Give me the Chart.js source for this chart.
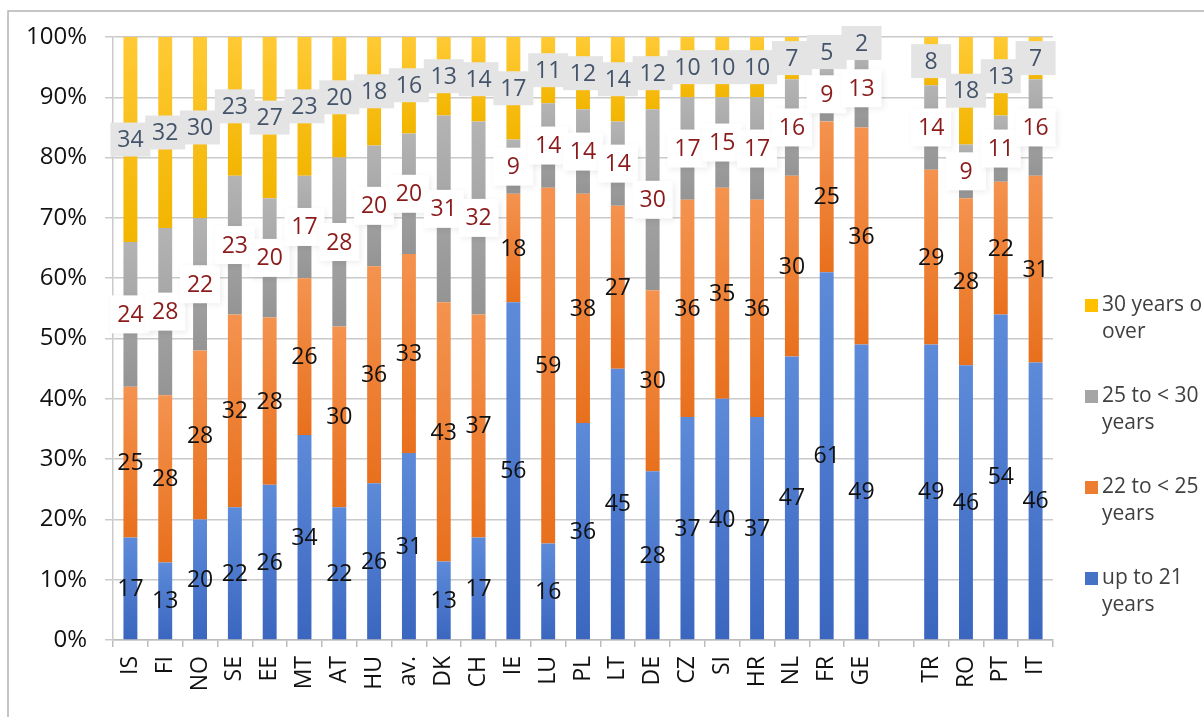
<!DOCTYPE html>
<html>
<head>
<meta charset="utf-8">
<script src="https://cdn.jsdelivr.net/npm/chart.js@4"></script>
<style>
  html, body { margin: 0; padding: 0; background: #fff; }
  #wrap { position: relative; width: 1204px; height: 717px; }
</style>
</head>
<body>
<div id="wrap"><canvas id="chart"></canvas></div>
<script>
// categories ('' is the empty slot between GE and TR)
const categories = ['IS', 'FI', 'NO', 'SE', 'EE', 'MT', 'AT', 'HU', 'av.', 'DK', 'CH', 'IE', 'LU', 'PL',
    'LT', 'DE', 'CZ', 'SI', 'HR', 'NL', 'FR', 'GE', '', 'TR', 'RO', 'PT', 'IT'];

const upTo21 = [17, 13, 20, 22, 26, 34, 22, 26, 31, 13, 17, 56, 16, 36, 45, 28, 37, 40, 37, 47, 61, 49, null, 49, 46, 54, 46];
const from22to25 = [25, 28, 28, 32, 28, 26, 30, 36, 33, 43, 37, 18, 59, 38, 27, 30, 36, 35, 36, 30, 25, 36, null, 29, 28, 22, 31];
const from25to30 = [24, 28, 22, 23, 20, 17, 28, 20, 20, 31, 32, 9, 14, 14, 14, 30, 17, 15, 17, 16, 9, 13, null, 14, 9, 11, 16];
const over30 = [34, 32, 30, 23, 27, 23, 20, 18, 16, 13, 14, 17, 11, 12, 14, 12, 10, 10, 10, 7, 5, 2, null, 8, 18, 13, 7];

const seriesNames = [['up to 21', 'years'], ['22 to < 25', 'years'], ['25 to < 30', 'years'], ['30 years or', 'over']];
const yTicks = [0, 10, 20, 30, 40, 50, 60, 70, 80, 90, 100];

const series = [upTo21, from22to25, from25to30, over30];
const FONT = '"Open Sans", "Liberation Sans", sans-serif';

// 100% stacked: share of each segment in its column
const totals = categories.map((_, i) => series.reduce((s, arr) => s + (arr[i] || 0), 0));
const shares = series.map(arr => arr.map((v, i) => v == null ? null : v / totals[i] * 100));

function segGradient(light, dark) {
    return (c) => {
        if (c.type !== 'data') return dark;
        const ys = c.chart.scales.y;
        const d = c.datasetIndex, i = c.dataIndex;
        if (!ys || shares[d][i] == null) return dark;
        let lo = 0;
        for (let k = 0; k < d; k++) lo += shares[k][i] || 0;
        const yTop = ys.getPixelForValue(lo + shares[d][i]);
        const yBot = ys.getPixelForValue(lo);
        if (!isFinite(yTop) || !isFinite(yBot) || yBot - yTop < 1) return dark;
        const g = c.chart.ctx.createLinearGradient(0, yTop, 0, yBot);
        g.addColorStop(0, light);
        g.addColorStop(1, dark);
        return g;
    };
}

const palette = [
    { flat: '#4472c4', light: '#5d8bd9', dark: '#3a66bf' },
    { flat: '#ed7d31', light: '#f4934f', dark: '#e8701d' },
    { flat: '#a5a5a5', light: '#b4b4b4', dark: '#949494' },
    { flat: '#ffc000', light: '#ffca35', dark: '#f2b500' }
];

const labelStyles = [
    { color: '#111111', box: null },
    { color: '#111111', box: null },
    { color: '#8b1a1a', box: '#ffffff', w: 40, h: 38, shadow: true },
    { color: '#44546a', box: '#e4e4e4', w: 40, h: 34, shadow: false }
];

const framePlugin = {
    id: 'frame',
    beforeDraw(chart) {
        const ctx = chart.ctx;
        ctx.save();
        ctx.fillStyle = '#ffffff';
        ctx.fillRect(0, 0, chart.width, chart.height);
        ctx.strokeStyle = '#b4b4b4';
        ctx.lineWidth = 1.5;
        ctx.beginPath();
        ctx.moveTo(8, chart.height);
        ctx.lineTo(8, 11);
        ctx.lineTo(chart.width, 11);
        ctx.stroke();
        ctx.restore();
    }
};

const valueLabels = {
    id: 'valueLabels',
    afterDatasetsDraw(chart) {
        const ctx = chart.ctx;
        ctx.save();
        ctx.font = '23px ' + FONT;
        ctx.textAlign = 'center';
        ctx.textBaseline = 'middle';
        series.forEach((arr, d) => {
            const st = labelStyles[d];
            chart.getDatasetMeta(d).data.forEach((bar, i) => {
                const v = arr[i];
                if (v == null) return;
                const cx = bar.x;
                const cy = (bar.y + bar.base) / 2;
                if (st.box) {
                    ctx.save();
                    if (st.shadow) {
                        ctx.shadowColor = 'rgba(0,0,0,0.07)';
                        ctx.shadowBlur = 6;
                        ctx.shadowOffsetX = 2;
                        ctx.shadowOffsetY = 2;
                    }
                    ctx.fillStyle = st.box;
                    ctx.fillRect(cx - st.w / 2, cy - st.h / 2, st.w, st.h);
                    ctx.restore();
                }
                ctx.fillStyle = st.color;
                ctx.fillText(String(v), cx, cy + 1);
            });
        });
        ctx.restore();
    }
};

const sideLegend = {
    id: 'sideLegend',
    afterDraw(chart) {
        const ctx = chart.ctx;
        ctx.save();
        ctx.font = '21px ' + FONT;
        ctx.textBaseline = 'middle';
        ctx.textAlign = 'left';
        // top to bottom: last series first
        [3, 2, 1, 0].forEach((d, k) => {
            const y0 = 305 + k * 91;
            ctx.fillStyle = palette[d].flat;
            ctx.fillRect(1085, y0 - 6, 13, 13);
            ctx.fillStyle = '#404040';
            seriesNames[d].forEach((line, j) => ctx.fillText(line, 1102, y0 + j * 27));
        });
        ctx.restore();
    }
};

new Chart(document.getElementById('chart'), {
    type: 'bar',
    data: {
        labels: categories,
        datasets: series.map((arr, d) => ({
            label: seriesNames[d].join(' '),
            data: shares[d],
            backgroundColor: segGradient(palette[d].light, palette[d].dark),
            borderWidth: 0,
            categoryPercentage: 0.8,
            barPercentage: 0.5
        }))
    },
    options: {
        responsive: true,
        maintainAspectRatio: false,
        animation: false,
        layout: { padding: { top: 37, right: 151, left: 0, bottom: 0 } },
        plugins: {
            legend: { display: false },
            tooltip: { enabled: false }
        },
        scales: {
            x: {
                stacked: true,
                grid: { offset: true, drawOnChartArea: false, drawTicks: true, tickLength: 7, color: '#bcbcbc', lineWidth: 1.5 },
                border: { color: '#bcbcbc', width: 1.5 },
                ticks: {
                    autoSkip: false,
                    minRotation: 90,
                    maxRotation: 90,
                    padding: 9,
                    color: '#111111',
                    font: { family: FONT, size: 23 }
                },
                afterFit: (s) => { s.height = 77; }
            },
            y: {
                stacked: true,
                min: 0,
                max: 100,
                afterBuildTicks: (s) => { s.ticks = yTicks.map(v => ({ value: v })); },
                grid: { color: '#cacaca', lineWidth: 1.5, drawTicks: true, tickLength: 8 },
                border: { color: '#cacaca', width: 1.5 },
                ticks: {
                    padding: 18,
                    color: '#111111',
                    font: { family: FONT, size: 24 },
                    callback: (v) => v + '%'
                },
                afterFit: (s) => { s.width = 113; }
            }
        }
    },
    plugins: [framePlugin, valueLabels, sideLegend]
});
</script>
</body>
</html>
